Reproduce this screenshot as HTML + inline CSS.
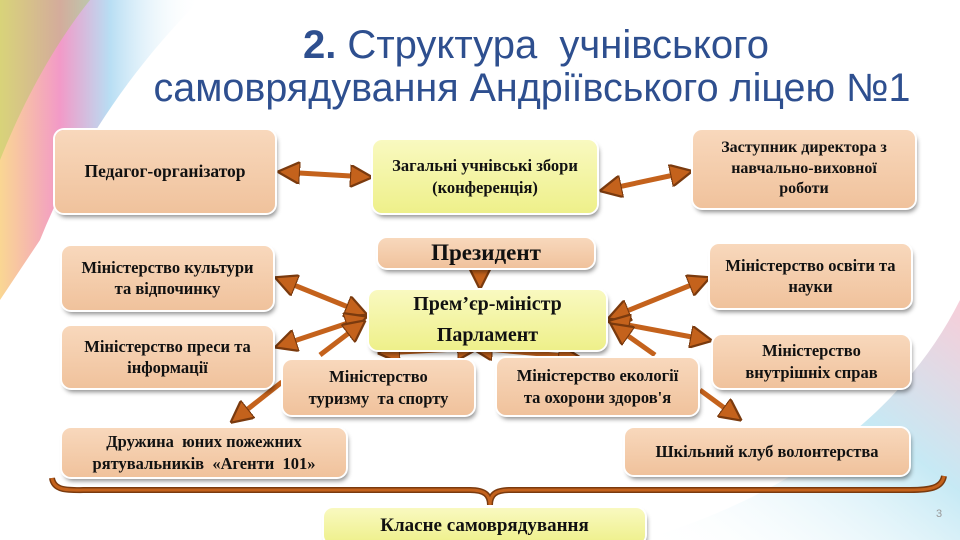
<!DOCTYPE html>
<html><head><meta charset="utf-8"><style>
body{margin:0}
#s{position:relative;width:960px;height:540px;overflow:hidden;background:#fff;font-family:"Liberation Serif",serif}
.b{position:absolute;display:flex;align-items:center;justify-content:center;text-align:center;font-weight:bold;color:#111;border-radius:9px;background:linear-gradient(#f8d8bc,#f0c29c);box-shadow:0 0 0 2px #fff,2px 4px 5px rgba(0,0,0,.45);font-size:16.5px;line-height:1.3;box-sizing:border-box;white-space:nowrap}
.y{background:linear-gradient(#f9f9c0,#eef08a)}
.t{position:absolute;left:0;width:960px;text-align:center;color:#2e4f8f;font-family:"Liberation Sans",sans-serif;font-size:39.5px;line-height:43px;white-space:nowrap}
</style></head><body><div id="s">
<svg width="960" height="540" style="position:absolute;left:0;top:0">
<defs>
<linearGradient id="r1" x1="0" y1="0" x2="1" y2="0"><stop offset="0" stop-color="#f5b53a"/><stop offset=".3" stop-color="#e8479a"/><stop offset=".55" stop-color="#7ec3ea"/><stop offset="1" stop-color="#fff" stop-opacity="0"/></linearGradient>
<linearGradient id="r2" x1="0" y1="1" x2="1" y2="0"><stop offset="0" stop-color="#fff" stop-opacity="0"/><stop offset=".6" stop-color="#aee0f0"/><stop offset="1" stop-color="#f4b8c8"/></linearGradient>
<marker id="a" viewBox="0 0 10 10" refX="8" refY="5" markerWidth="4.5" markerHeight="4.5" orient="auto-start-reverse"><path d="M0,0L10,5L0,10z" fill="#c4621c" stroke="#7a3a0e" stroke-width="1"/></marker>
</defs>
<path d="M0,0 L200,0 C140,60 80,140 40,240 L0,300 Z" fill="url(#r1)" opacity=".55"/>
<path d="M0,0 L90,0 C50,50 20,110 0,160 Z" fill="#9ccf4a" opacity=".35"/>
<path d="M960,300 L960,540 L640,540 C780,500 900,420 960,300 Z" fill="url(#r2)" opacity=".7"/>
<g stroke="#c4621c" stroke-width="5" fill="none" marker-start="url(#a)" marker-end="url(#a)">
<line x1="282" y1="172" x2="368" y2="177"/>
<line x1="604" y1="190" x2="688" y2="172"/>
<line x1="279" y1="279" x2="363" y2="313"/>
<line x1="279" y1="346" x2="363" y2="318"/>
<line x1="382" y1="353" x2="475" y2="348"/>
<line x1="475" y1="348" x2="576" y2="357"/>
<line x1="612" y1="317" x2="706" y2="279"/>
<line x1="612" y1="322" x2="708" y2="340"/>
</g>
<g stroke="#c4621c" stroke-width="5" fill="none" marker-end="url(#a)">
<line x1="480" y1="270" x2="480" y2="285"/>
<line x1="320" y1="355" x2="362" y2="323"/>
<line x1="655" y1="355" x2="614" y2="326"/>
<line x1="282" y1="382" x2="234" y2="420"/>
<line x1="700" y1="390" x2="738" y2="418"/>
</g>
<path d="M52,478 C54,492 70,490 90,490 L470,490 C485,490 490,495 490,505 C490,495 495,490 510,490 L910,490 C930,490 942,488 944,476" fill="none" stroke="#7a3a0e" stroke-width="6"/>
<path d="M52,478 C54,492 70,490 90,490 L470,490 C485,490 490,495 490,505 C490,495 495,490 510,490 L910,490 C930,490 942,488 944,476" fill="none" stroke="#c4621c" stroke-width="3"/>
</svg>
<div class="t" style="top:24px;padding-left:56px;font-size:40px"><b>2.</b> Структура&nbsp; учнівського</div>
<div class="t" style="top:67px;padding-left:52px">самоврядування Андріївського ліцею №1</div>
<div class="b" style="left:55px;top:130px;width:220px;height:83px;font-size:17.5px">Педагог-організатор</div>
<div class="b y" style="left:373px;top:140px;width:224px;height:73px">Загальні учнівські збори<br>(конференція)</div>
<div class="b" style="left:693px;top:130px;width:222px;height:78px;font-size:16px">Заступник директора з<br>навчально-виховної<br>роботи</div>
<div class="b" style="left:378px;top:238px;width:216px;height:30px;font-size:23px">Президент</div>
<div class="b y" style="left:369px;top:290px;width:237px;height:60px;font-size:20px;line-height:1.55">Прем’єр-міністр<br>Парламент</div>
<div class="b" style="left:62px;top:246px;width:211px;height:64px">Міністерство культури<br>та відпочинку</div>
<div class="b" style="left:62px;top:326px;width:211px;height:62px">Міністерство преси та<br>інформації</div>
<div class="b" style="left:283px;top:360px;width:191px;height:55px">Міністерство<br>туризму&nbsp; та спорту</div>
<div class="b" style="left:497px;top:358px;width:201px;height:57px">Міністерство екології<br>та охорони здоров'я</div>
<div class="b" style="left:62px;top:428px;width:284px;height:49px">Дружина&nbsp; юних пожежних<br>рятувальників&nbsp; «Агенти&nbsp; 101»</div>
<div class="b" style="left:710px;top:244px;width:201px;height:64px">Міністерство освіти та<br>науки</div>
<div class="b" style="left:713px;top:335px;width:197px;height:53px">Міністерство<br>внутрішніх справ</div>
<div class="b" style="left:625px;top:428px;width:284px;height:47px">Шкільний клуб волонтерства</div>
<div class="b y" style="left:324px;top:508px;width:321px;height:36px;font-size:19px;align-items:flex-start;padding-top:6px">Класне самоврядування</div>
<div style="position:absolute;left:936px;top:508px;font:11px 'Liberation Sans',sans-serif;color:#999">3</div>
</div></body></html>
